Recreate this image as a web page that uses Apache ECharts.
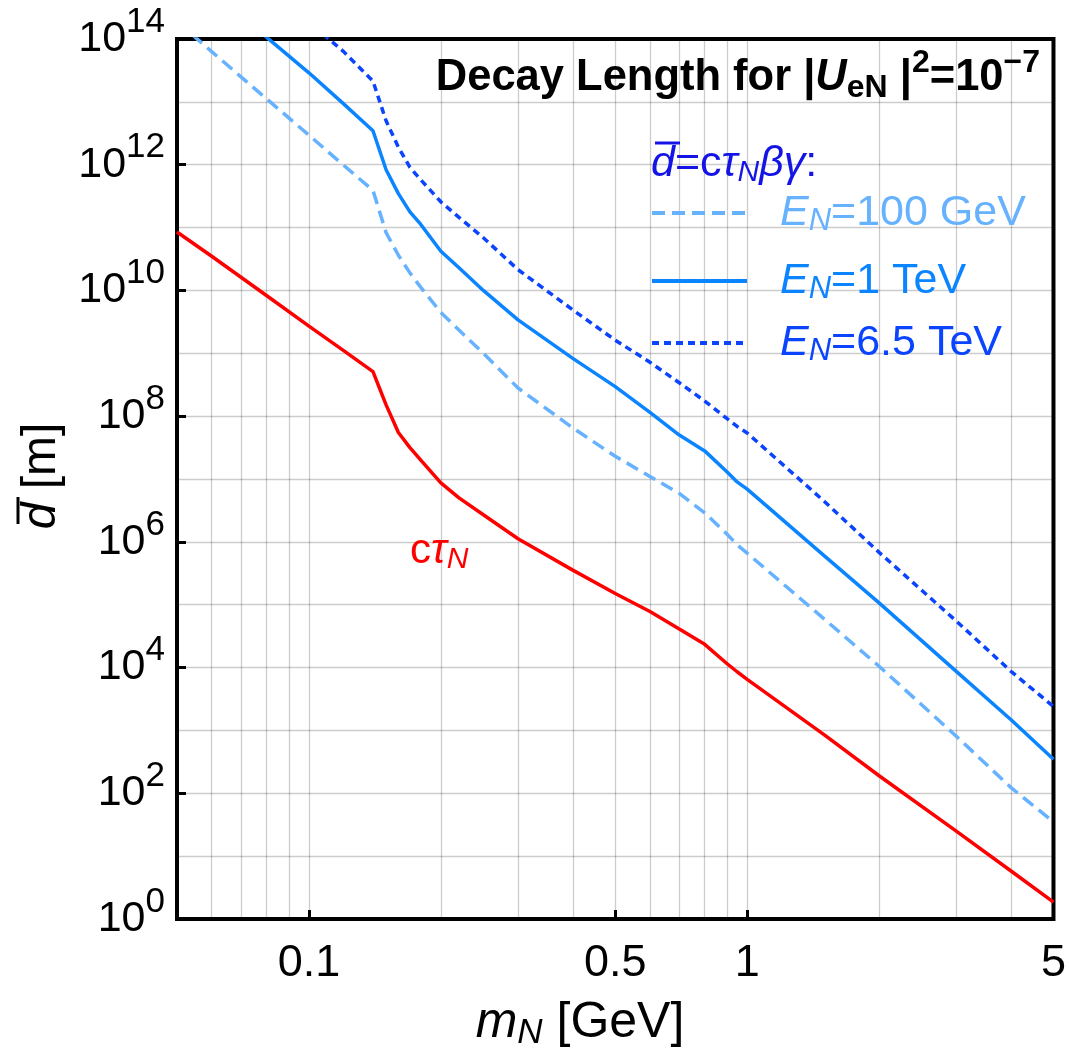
<!DOCTYPE html>
<html>
<head>
<meta charset="utf-8">
<script src="https://cdn.jsdelivr.net/npm/echarts@6/dist/echarts.min.js"></script>
<style>
html, body { margin: 0; padding: 0; background: #fff; }
#chart { width: 1069px; height: 1051px; }
</style>
</head>
<body>
<div id="chart"></div>
<script>
// heavy neutral lepton mass m_N [GeV]
var masses = [0.05, 0.06, 0.08, 0.1, 0.12, 0.14, 0.15, 0.16, 0.17, 0.18, 0.2, 0.22, 0.25, 0.3, 0.4, 0.5,
    0.6, 0.7, 0.8, 0.9, 0.95, 1, 1.5, 2, 3, 4, 5];
// c*tau_N [m]
var ctau = [8.5e10, 3.5e10, 8.3e9, 2.7e9, 1.1e9, 5.1e8, 1.51e8, 5.5e7, 3.16e7, 2.0e7, 8.7e6, 5.0e6, 2.7e6, 1.12e6,
    3.55e5, 1.51e5, 7.8e4, 4.1e4, 2.34e4, 1.15e4, 8.5e3, 6.5e3, 850, 190, 25, 5.8, 1.86];
// decay length for E_N = 100 GeV
var dE100 = [1.9e14, 6.3e13, 1.12e13, 2.95e12, 9.8e11, 3.9e11, 8.3e10, 3.63e10, 1.9e10, 1.12e10, 4.47e9, 2.34e9, 1.0e9,
    2.8e8, 6.5e7, 2.3e7, 1.1e7, 5.9e6, 2.9e6, 1.32e6, 8.9e5, 6.6e5, 5.9e4, 1.05e4, 810, 123, 35];
// E_N = 1 TeV
var dE1000 = [1.95e15, 6.3e14, 1.07e14, 2.9e13, 9.3e12, 3.47e12, 8.3e11, 3.47e11, 1.78e11, 1.12e11, 4.2e10, 2.3e10, 1.0e10,
    3.4e9, 8.3e8, 2.95e8, 1.15e8, 5.0e7, 2.8e7, 1.29e7, 8.9e6, 6.9e6, 6.0e5, 1.07e5, 8.7e3, 1.48e3, 347];
// E_N = 6.5 TeV
var dE6500 = [1.15e16, 4.0e15, 7.1e14, 1.86e14, 6.3e13, 2.14e13, 5.0e12, 1.9e12, 9.1e11, 5.75e11, 2.57e11, 1.45e11, 6.9e10,
    2.14e10, 4.9e9, 1.62e9, 7.2e8, 3.4e8, 1.74e8, 9.1e7, 6.8e7, 5.4e7, 4.4e6, 6.8e5, 5.5e4, 8.7e3, 2.4e3];

var xTickValues = [0.1, 0.5, 1, 5];
var xGridValues = [0.06, 0.07, 0.08, 0.09, 0.1, 0.2, 0.3, 0.4, 0.5, 0.6, 0.7, 0.8, 0.9, 1, 2, 3, 4];
var yTickValues = [1, 1e2, 1e4, 1e6, 1e8, 1e10, 1e12, 1e14];
var yGridValues = [1, 1e1, 1e2, 1e3, 1e4, 1e5, 1e6, 1e7, 1e8, 1e9, 1e10, 1e11, 1e12, 1e13, 1e14];

var FONT = '"Liberation Sans", Arial, Helvetica, sans-serif';
var GRIDLINE = 'rgba(0,0,0,0.2)';

var colRed = '#ff0000';
var colE100 = '#66b2ff';
var colE1000 = '#0a84ff';
var colE6500 = '#0a44ff';
var colFormula = '#1414e6';

var dashE100 = [13, 7];
var dashE6500 = [7, 5];

function pairs(vals) {
    return masses.map(function(m, i) { return [m, vals[i]]; });
}

function legendBlock(name, label, color, dash, top) {
    return {
        data: [name],
        left: 650,
        top: top,
        padding: 0,
        itemWidth: 95,
        itemHeight: 2,
        selectedMode: false,
        itemStyle: { opacity: 0 },
        lineStyle: { width: 4, color: color, type: dash },
        formatter: function() {
            return '{e|E}{n|N}{t|' + label + '}';
        },
        textStyle: {
            rich: {
                e: { fontFamily: FONT, fontSize: 43, fontStyle: 'italic', color: color, lineHeight: 46, padding: [0, 0, 0, 28], verticalAlign: 'middle' },
                n: { fontFamily: FONT, fontSize: 31, fontStyle: 'italic', color: color, lineHeight: 31, padding: [17, 0, 0, 0], verticalAlign: 'middle' },
                t: { fontFamily: FONT, fontSize: 43, color: color, lineHeight: 46, verticalAlign: 'middle' }
            }
        }
    };
}

var chart = echarts.init(document.getElementById('chart'));

var option = {
    animation: false,
    backgroundColor: '#fff',
    grid: {
        left: 177, right: 13, top: 39, bottom: 132,
        show: true, borderColor: '#000', borderWidth: 4
    },
    legend: [
        legendBlock('E100', '=100 GeV', colE100, dashE100, 189),
        legendBlock('E1000', '=1 TeV', colE1000, 'solid', 257),
        legendBlock('E6500', '=6.5 TeV', colE6500, dashE6500, 319)
    ],
    xAxis: [
        {
            type: 'log', logBase: 10, min: 0.05, max: 5, position: 'bottom',
            axisLine: { show: false },
            axisTick: { show: true, inside: true, length: 9, customValues: xTickValues, lineStyle: { color: '#000', width: 3 } },
            axisLabel: {
                customValues: xTickValues, margin: 22, fontSize: 45, fontFamily: FONT, color: '#000',
                formatter: function(v) { return String(+v.toPrecision(3)); }
            },
            splitLine: { show: false }
        },
        {
            type: 'log', logBase: 10, min: 0.05, max: 5, position: 'top',
            axisLine: { show: false },
            axisTick: { show: false, customValues: xGridValues },
            axisLabel: { show: false },
            splitLine: { show: true, lineStyle: { color: GRIDLINE, width: 1.3 } }
        }
    ],
    yAxis: [
        {
            type: 'log', logBase: 10, min: 1, max: 1e14, position: 'left',
            axisLine: { show: false },
            axisTick: { show: true, inside: true, length: 9, customValues: yTickValues, lineStyle: { color: '#000', width: 3 } },
            axisLabel: {
                customValues: yTickValues, margin: 12,
                formatter: function(v) {
                    return '{b|10}{s|' + Math.round(Math.log10(v)) + '}';
                },
                rich: {
                    b: { fontFamily: FONT, fontSize: 43, color: '#000', lineHeight: 43, verticalAlign: 'middle' },
                    s: { fontFamily: FONT, fontSize: 35, color: '#000', lineHeight: 35, padding: [0, 0, 34, 0], verticalAlign: 'middle' }
                }
            },
            splitLine: { show: false }
        },
        {
            type: 'log', logBase: 10, min: 1, max: 1e14, position: 'right',
            axisLine: { show: false },
            axisTick: { show: false, customValues: yGridValues },
            axisLabel: { show: false },
            splitLine: { show: true, lineStyle: { color: GRIDLINE, width: 1.3 } }
        }
    ],
    series: [
        {
            name: 'ctau', type: 'line', data: pairs(ctau), symbol: 'none',
            lineStyle: { color: colRed, width: 3.5 }, itemStyle: { color: colRed }
        },
        {
            name: 'E100', type: 'line', data: pairs(dE100), symbol: 'none',
            lineStyle: { color: colE100, width: 3.5, type: dashE100 }, itemStyle: { color: colE100 }
        },
        {
            name: 'E1000', type: 'line', data: pairs(dE1000), symbol: 'none',
            lineStyle: { color: colE1000, width: 3.5 }, itemStyle: { color: colE1000 }
        },
        {
            name: 'E6500', type: 'line', data: pairs(dE6500), symbol: 'none',
            lineStyle: { color: colE6500, width: 3.5, type: dashE6500 }, itemStyle: { color: colE6500 }
        }
    ],
    graphic: [
        {
            // plot title
            type: 'text', x: 1040, y: 78, z: 10,
            style: {
                text: '{t|Decay Length for |}{u|U}{sub|eN}{t| |}{sup|2}{t|=10}{sup|\u22127}',
                align: 'right', verticalAlign: 'middle',
                rich: {
                    t: { fontFamily: FONT, fontSize: 43.5, fontWeight: 'bold', fill: '#000', verticalAlign: 'middle', lineHeight: 44 },
                    u: { fontFamily: FONT, fontSize: 43.5, fontWeight: 'bold', fontStyle: 'italic', fill: '#000', verticalAlign: 'middle', lineHeight: 44 },
                    sub: { fontFamily: FONT, fontSize: 32, fontWeight: 'bold', fill: '#000', verticalAlign: 'middle', lineHeight: 32, padding: [20, 0, 0, 0] },
                    sup: { fontFamily: FONT, fontSize: 32, fontWeight: 'bold', fill: '#000', verticalAlign: 'middle', lineHeight: 32, padding: [0, 0, 30, 0] }
                }
            }
        },
        {
            // legend heading
            type: 'text', x: 651, y: 164, z: 10,
            style: {
                text: '{i|d}{t|=c}{i|\u03c4}{n|N}{i|\u03b2\u03b3}{t|:}',
                align: 'left', verticalAlign: 'middle',
                rich: {
                    t: { fontFamily: FONT, fontSize: 43, fill: colFormula, verticalAlign: 'middle', lineHeight: 44 },
                    i: { fontFamily: FONT, fontSize: 43, fontStyle: 'italic', fill: colFormula, verticalAlign: 'middle', lineHeight: 44 },
                    n: { fontFamily: FONT, fontSize: 30, fontStyle: 'italic', fill: colFormula, verticalAlign: 'middle', lineHeight: 30, padding: [17, 0, 0, 0] }
                }
            }
        },
        {
            // bar over the d in the legend heading
            type: 'line', z: 10,
            shape: { x1: 655, y1: 143, x2: 680, y2: 143 },
            style: { stroke: colFormula, lineWidth: 3 }
        },
        {
            // label of the red curve
            type: 'text', x: 410, y: 551, z: 10,
            style: {
                text: '{t|c}{i|\u03c4}{n|N}',
                align: 'left', verticalAlign: 'middle',
                rich: {
                    t: { fontFamily: FONT, fontSize: 42, fill: colRed, verticalAlign: 'middle', lineHeight: 44 },
                    i: { fontFamily: FONT, fontSize: 42, fontStyle: 'italic', fill: colRed, verticalAlign: 'middle', lineHeight: 44 },
                    n: { fontFamily: FONT, fontSize: 30, fontStyle: 'italic', fill: colRed, verticalAlign: 'middle', lineHeight: 30, padding: [17, 0, 0, 0] }
                }
            }
        },
        {
            // x axis title
            type: 'text', x: 580, y: 1023, z: 10,
            style: {
                text: '{i|m}{n|N}{t| [GeV]}',
                align: 'center', verticalAlign: 'middle',
                rich: {
                    t: { fontFamily: FONT, fontSize: 50, fill: '#000', verticalAlign: 'middle', lineHeight: 52 },
                    i: { fontFamily: FONT, fontSize: 50, fontStyle: 'italic', fill: '#000', verticalAlign: 'middle', lineHeight: 52 },
                    n: { fontFamily: FONT, fontSize: 35, fontStyle: 'italic', fill: '#000', verticalAlign: 'middle', lineHeight: 35, padding: [20, 0, 0, 0] }
                }
            }
        },
        {
            // y axis title, read bottom to top
            type: 'group', x: 42, y: 476, rotation: Math.PI / 2, z: 10,
            children: [
                {
                    type: 'text',
                    style: {
                        text: '{i|d}{t| [m]}',
                        align: 'center', verticalAlign: 'middle',
                        rich: {
                            t: { fontFamily: FONT, fontSize: 48, fill: '#000', verticalAlign: 'middle', lineHeight: 50 },
                            i: { fontFamily: FONT, fontSize: 48, fontStyle: 'italic', fill: '#000', verticalAlign: 'middle', lineHeight: 50 }
                        }
                    }
                },
                {
                    type: 'line',
                    shape: { x1: -48, y1: -24, x2: -21, y2: -24 },
                    style: { stroke: '#000', lineWidth: 3 }
                }
            ]
        }
    ]
};

chart.setOption(option);
</script>
</body>
</html>
